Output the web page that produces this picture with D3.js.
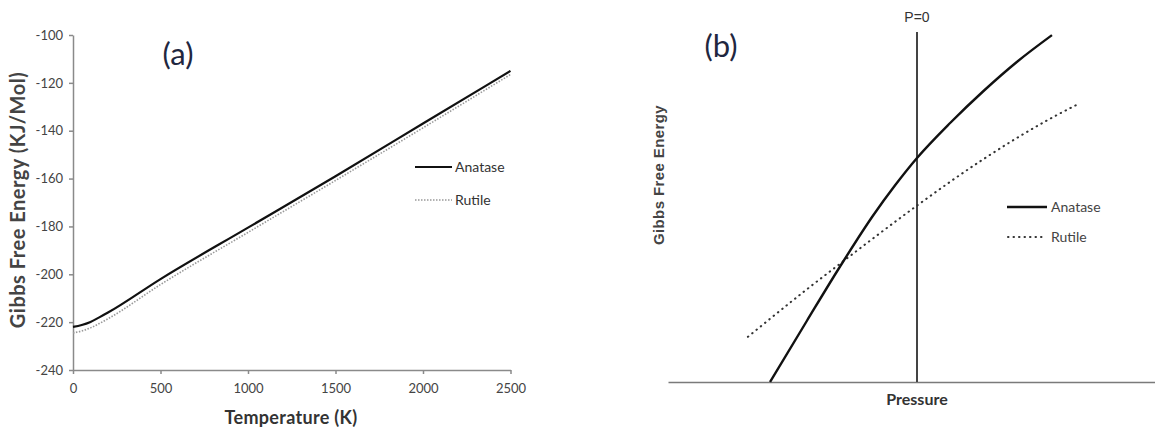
<!DOCTYPE html>
<html>
<head>
<meta charset="utf-8">
<script src="https://cdn.jsdelivr.net/npm/d3@7"></script>
<style>
  body { margin: 0; background: #fff; }
  svg { display: block; }
</style>
</head>
<body>
<div id="vis"></div>
<script>
// canvas
var width = 1155;
var height = 429;

// ---- data: panel (a) ----
var tempK = [0, 50, 100, 150, 200, 500, 1000, 1500, 2000, 2500];
var anataseA = [-222, -221.2, -219.9, -218.0, -216.0, -202.0, -180.5, -159.0, -137.0, -115.0];
var rutileA = [-224.5, -223.7, -222.4, -220.6, -218.6, -204.3, -182.5, -160.8, -138.8, -116.5];
var xTicksA = [0, 500, 1000, 1500, 2000, 2500];
var yTicksA = [-240, -220, -200, -180, -160, -140, -120, -100];

// ---- data: panel (b), arbitrary units (P=0 at 0) ----
var pressAnatase = [-0.590, -0.442, -0.309, -0.177, -0.088, 0, 0.133, 0.265, 0.402, 0.542];
var gAnatase = [0.000, 0.175, 0.330, 0.475, 0.562, 0.640, 0.740, 0.830, 0.915, 0.991];
var pressRutile = [-0.679, -0.442, -0.309, -0.177, 0, 0.265, 0.534, 0.655];
var gRutile = [0.129, 0.265, 0.338, 0.410, 0.504, 0.636, 0.752, 0.797];

var seriesNames = ["Anatase", "Rutile"];

var calibri = '"Lato", "Open Sans", sans-serif';
var arial = '"Liberation Sans", Arial, sans-serif';

var svg = d3.select("#vis")
    .append("svg")
    .attr("width", width)
    .attr("height", height);

// =================== panel (a) ===================
var xA = d3.scaleLinear().domain([0, 2500]).range([73, 510.5]);
var yA = d3.scaleLinear().domain([-240, -100]).range([370, 35]);

var gA = svg.append("g");

var xAxisA = d3.axisBottom(xA).tickValues(xTicksA).tickSize(4).tickSizeOuter(0).tickPadding(10)
    .tickFormat(function(d) { return String(d); });
var yAxisA = d3.axisLeft(yA).tickValues(yTicksA).tickSize(4).tickSizeOuter(0).tickPadding(6)
    .tickFormat(function(d) { return String(d); });

gA.append("g")
    .attr("transform", "translate(0," + yA(-240) + ")")
    .call(xAxisA);
gA.append("g")
    .attr("transform", "translate(" + xA(0) + ",0)")
    .call(yAxisA);

gA.selectAll(".domain, .tick line")
    .attr("stroke", "#8a8a8a")
    .attr("stroke-width", 1.5);
gA.selectAll(".tick text")
    .attr("fill", "#444")
    .style("font-family", calibri)
    .style("font-size", "13px");

var lineA = d3.line()
    .x(function(d) { return xA(d[0]); })
    .y(function(d) { return yA(d[1]); })
    .curve(d3.curveMonotoneX);

gA.append("path")
    .datum(tempK.map(function(t, i) { return [t, rutileA[i]]; }))
    .attr("fill", "none")
    .attr("stroke", "#999")
    .attr("stroke-width", 1.6)
    .attr("stroke-dasharray", "1.5,1.5")
    .attr("d", lineA);

gA.append("path")
    .datum(tempK.map(function(t, i) { return [t, anataseA[i]]; }))
    .attr("fill", "none")
    .attr("stroke", "#111")
    .attr("stroke-width", 2.2)
    .attr("d", lineA);

// legend (a)
var legA = gA.append("g");
legA.append("line").attr("x1", 415).attr("x2", 452).attr("y1", 167).attr("y2", 167)
    .attr("stroke", "#111").attr("stroke-width", 2.2);
legA.append("line").attr("x1", 415).attr("x2", 452).attr("y1", 200).attr("y2", 200)
    .attr("stroke", "#999").attr("stroke-width", 1.6).attr("stroke-dasharray", "1.5,1.5");
legA.selectAll("text")
    .data(seriesNames)
    .enter()
    .append("text")
    .attr("x", 455)
    .attr("y", function(d, i) { return 167 + i * 33; })
    .attr("dy", "0.35em")
    .attr("fill", "#333")
    .style("font-family", calibri)
    .style("font-size", "14px")
    .text(function(d) { return d; });

// titles (a)
gA.append("text")
    .attr("x", 178).attr("y", 65)
    .attr("text-anchor", "middle")
    .attr("fill", "#1f2740")
    .style("font-family", calibri)
    .style("font-size", "31px")
    .text("(a)");

gA.append("text")
    .attr("transform", "translate(" + 291 + "," + 424 + ")")
    .attr("text-anchor", "middle")
    .attr("fill", "#333")
    .style("font-family", calibri)
    .style("font-weight", "bold")
    .style("font-size", "18px")
    .style("letter-spacing", "0.3px")
    .text("Temperature (K)");

gA.append("text")
    .attr("transform", "translate(" + 25 + "," + 200 + ") rotate(-90)")
    .attr("text-anchor", "middle")
    .attr("fill", "#444")
    .style("font-family", calibri)
    .style("font-weight", "bold")
    .style("font-size", "20px")
    .style("letter-spacing", "0.5px")
    .text("Gibbs Free Energy (KJ/Mol)");

// =================== panel (b) ===================
var xB = d3.scaleLinear().domain([-1, 1]).range([668, 1166]);
var yB = d3.scaleLinear().domain([0, 1]).range([382, 32]);

var gB = svg.append("g");

// pressure axis, no ticks
gB.append("g")
    .attr("transform", "translate(0," + yB(0) + ")")
    .call(d3.axisBottom(xB).tickValues([]).tickSizeOuter(0))
    .select(".domain")
    .attr("stroke", "#7a7a7a")
    .attr("stroke-width", 1.5);

// P=0 line
gB.append("line")
    .attr("x1", xB(0)).attr("x2", xB(0))
    .attr("y1", yB(0)).attr("y2", yB(1))
    .attr("stroke", "#444")
    .attr("stroke-width", 2);

var lineB = d3.line()
    .x(function(d) { return xB(d[0]); })
    .y(function(d) { return yB(d[1]); })
    .curve(d3.curveMonotoneX);

gB.append("path")
    .datum(pressRutile.map(function(p, i) { return [p, gRutile[i]]; }))
    .attr("fill", "none")
    .attr("stroke", "#333")
    .attr("stroke-width", 2)
    .attr("stroke-linecap", "round")
    .attr("stroke-dasharray", "0.5,5")
    .attr("d", lineB);

gB.append("path")
    .datum(pressAnatase.map(function(p, i) { return [p, gAnatase[i]]; }))
    .attr("fill", "none")
    .attr("stroke", "#111")
    .attr("stroke-width", 2.4)
    .attr("d", lineB);

// legend (b)
var legB = gB.append("g");
legB.append("line").attr("x1", 1007).attr("x2", 1047).attr("y1", 207).attr("y2", 207)
    .attr("stroke", "#111").attr("stroke-width", 2.6);
legB.append("line").attr("x1", 1008).attr("x2", 1045).attr("y1", 237).attr("y2", 237)
    .attr("stroke", "#333").attr("stroke-width", 2)
    .attr("stroke-linecap", "round").attr("stroke-dasharray", "0.5,5");
legB.selectAll("text")
    .data(seriesNames)
    .enter()
    .append("text")
    .attr("x", 1051)
    .attr("y", function(d, i) { return 207 + i * 30; })
    .attr("dy", "0.35em")
    .attr("fill", "#444")
    .style("font-family", calibri)
    .style("font-size", "14px")
    .text(function(d) { return d; });

// titles (b)
gB.append("text")
    .attr("x", 721).attr("y", 57)
    .attr("text-anchor", "middle")
    .attr("fill", "#1f2740")
    .style("font-family", calibri)
    .style("font-size", "31px")
    .text("(b)");

gB.append("text")
    .attr("x", xB(0)).attr("y", 22)
    .attr("text-anchor", "middle")
    .attr("fill", "#333")
    .style("font-family", arial)
    .style("font-size", "14px")
    .text("P=0");

gB.append("text")
    .attr("x", xB(0)).attr("y", 405)
    .attr("text-anchor", "middle")
    .attr("fill", "#333")
    .style("font-family", calibri)
    .style("font-weight", "bold")
    .style("font-size", "16px")
    .text("Pressure");

gB.append("text")
    .attr("transform", "translate(" + 664 + "," + 175 + ") rotate(-90)")
    .attr("text-anchor", "middle")
    .attr("fill", "#444")
    .style("font-family", arial)
    .style("font-weight", "bold")
    .style("font-size", "15px")
    .style("letter-spacing", "0.4px")
    .text("Gibbs Free Energy");
</script>
</body>
</html>
